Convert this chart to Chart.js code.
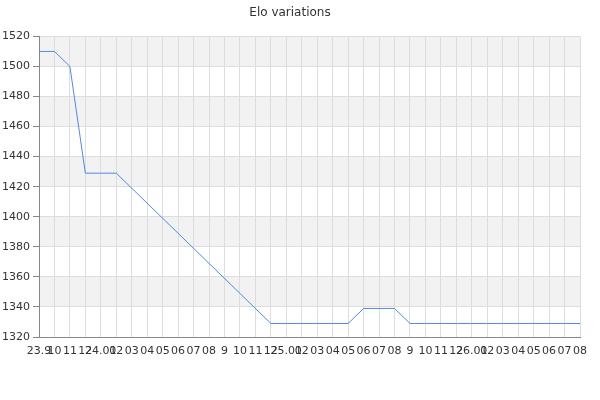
<!DOCTYPE html>
<html>
<head>
<meta charset="utf-8">
<script src="https://cdn.jsdelivr.net/npm/chart.js@4"></script>
<style>
html,body{margin:0;padding:0;background:#fff;}
#wrap{width:600px;height:400px;}
</style>
</head>
<body>
<div id="wrap"><canvas id="c"></canvas></div>
<script>
const xLabels = ['23.9','10','11','12','24.01','02','03','04','05','06','07','08','9','10','11','12','25.01','02','03','04','05','06','07','08','9','10','11','12','26.01','02','03','04','05','06','07','08'];
const eloValues = [1510,1510,1500,1429,1429,1429,null,null,null,null,null,null,null,null,null,1329,1329,1329,1329,1329,1329,1339,1339,1339,1329,1329,1329,1329,1329,1329,1329,1329,1329,1329,1329,1329];
const yMin = 1320, yMax = 1520, yMajor = 20, yMinor = 10;
const shadedBands = [[1500,1520],[1460,1480],[1420,1440],[1380,1400],[1340,1360]];

const bandPlugin = {
  id: 'bands',
  beforeDraw(chart) {
    const {ctx, chartArea, scales} = chart;
    const y = scales.y;
    ctx.save();
    ctx.fillStyle = '#f2f2f2';
    shadedBands.forEach(([a,b]) => {
      const top = y.getPixelForValue(b), bot = y.getPixelForValue(a);
      ctx.fillRect(chartArea.left, top, chartArea.right - chartArea.left, bot - top);
    });
    ctx.restore();
  },
  afterDraw(chart) {
    const {ctx, scales} = chart;
    const y = scales.y;
    ctx.save();
    ctx.strokeStyle = '#888';
    ctx.lineWidth = 1;
    y.ticks.forEach(t => {
      if (t.value % yMajor !== 0) {
        const p = Math.round(y.getPixelForValue(t.value)) + 0.5;
        ctx.beginPath();
        ctx.moveTo(y.right - 3, p);
        ctx.lineTo(y.right, p);
        ctx.stroke();
      }
    });
    ctx.restore();
  }
};

new Chart(document.getElementById('c'), {
  type: 'line',
  data: {
    labels: xLabels,
    datasets: [{
      data: eloValues,
      borderColor: '#5585e5',
      borderWidth: 1,
      pointRadius: 0,
      tension: 0,
      spanGaps: true,
      fill: false
    }]
  },
  options: {
    responsive: true,
    maintainAspectRatio: false,
    animation: false,
    layout: {padding: {left: 0, right: 20, top: 0, bottom: 0}},
    plugins: {
      legend: {display: false},
      tooltip: {enabled: false},
      title: {
        display: true,
        text: 'Elo variations',
        color: '#333',
        font: {family: 'DejaVu Sans', size: 12, weight: 'normal'},
        padding: {top: 6, bottom: 16}
      }
    },
    scales: {
      x: {
        grid: {color: '#dddddd', drawTicks: false},
        border: {color: '#888', width: 1},
        ticks: {
          autoSkip: false, maxRotation: 0, minRotation: 0,
          color: '#333', padding: 8,
          font: {family: 'DejaVu Sans', size: 11}
        },
        afterFit(s) { s.height = 63; }
      },
      y: {
        min: yMin, max: yMax,
        grid: {
          color: c => (c.tick && c.tick.value % yMajor === 0) ? '#dddddd' : 'rgba(0,0,0,0)',
          tickColor: c => (c.tick && c.tick.value % yMajor === 0) ? '#888' : 'rgba(0,0,0,0)',
          tickLength: 6
        },
        border: {color: '#888', width: 1},
        ticks: {
          stepSize: yMinor,
          color: '#333',
          padding: 3,
          font: {family: 'DejaVu Sans', size: 11},
          callback: v => (v % yMajor === 0) ? String(v) : ''
        },
        afterFit(s) { s.width = 39; }
      }
    }
  },
  plugins: [bandPlugin]
});
</script>
</body>
</html>
